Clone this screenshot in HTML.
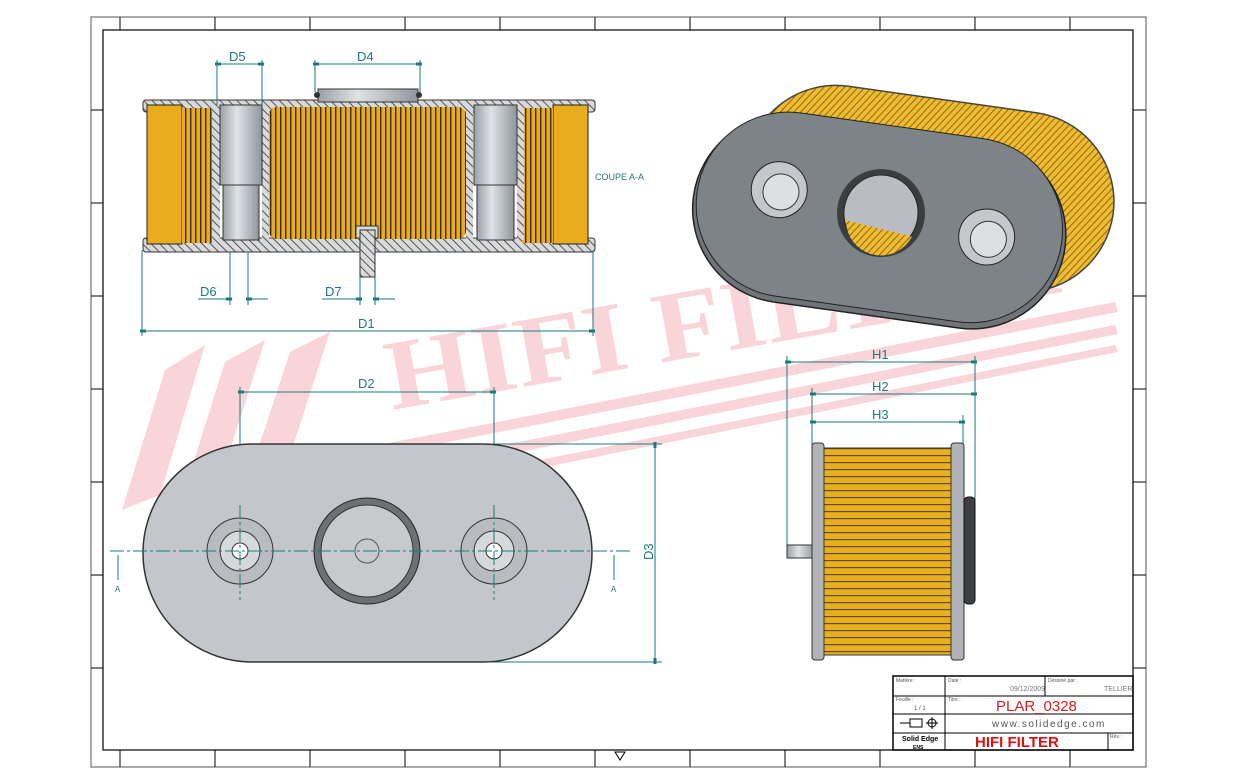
<!DOCTYPE html>
<html><head><meta charset="utf-8"><style>
html,body{margin:0;padding:0;background:#fff;}
svg{display:block;font-family:"Liberation Sans",sans-serif;}
</style></head><body>
<svg width="1237" height="784" viewBox="0 0 1237 784" xmlns="http://www.w3.org/2000/svg">
<defs>
<pattern id="pl" width="5" height="10" patternUnits="userSpaceOnUse"><rect width="5" height="10" fill="#e8ac1c"/><rect x="0" width="1.4" height="10" fill="#3a2a08"/></pattern>
<pattern id="plh" width="10" height="7" patternUnits="userSpaceOnUse"><rect width="10" height="7" fill="#e8b020"/><rect y="0" width="10" height="1.2" fill="#6b4a08"/></pattern>
<pattern id="pld" width="5" height="5" patternUnits="userSpaceOnUse" patternTransform="rotate(35)"><rect width="5" height="5" fill="#efbb30"/><rect width="1" height="5" fill="#8a6a18"/></pattern>
<pattern id="hat" width="6" height="6" patternUnits="userSpaceOnUse" patternTransform="rotate(-45)"><rect width="6" height="6" fill="#d8dadc"/><rect width="1" height="6" fill="#555"/></pattern>
<linearGradient id="tube" x1="0" x2="1"><stop offset="0" stop-color="#9aa0a6"/><stop offset=".4" stop-color="#dfe3e6"/><stop offset="1" stop-color="#8f959b"/></linearGradient>
<marker id="ar" markerWidth="8" markerHeight="6" refX="0" refY="3" orient="auto-start-reverse"><rect x="0" y="1.5" width="6" height="3" fill="#1d7a7a"/></marker>
</defs>
<rect width="1237" height="784" fill="#fff"/>
<rect x="91" y="17" width="1055" height="750" fill="none" stroke="#555" stroke-width="1"/>
<rect x="103" y="30" width="1030" height="720" fill="none" stroke="#000" stroke-width="1.2"/>
<g stroke="#000" stroke-width="1">
<line x1="120" y1="750" x2="120" y2="767"/><line x1="215" y1="750" x2="215" y2="767"/><line x1="310" y1="750" x2="310" y2="767"/><line x1="405" y1="750" x2="405" y2="767"/><line x1="500" y1="750" x2="500" y2="767"/><line x1="595" y1="750" x2="595" y2="767"/><line x1="690" y1="750" x2="690" y2="767"/><line x1="785" y1="750" x2="785" y2="767"/><line x1="880" y1="750" x2="880" y2="767"/><line x1="975" y1="750" x2="975" y2="767"/><line x1="1070" y1="750" x2="1070" y2="767"/>
<line x1="120" y1="17" x2="120" y2="30"/><line x1="215" y1="17" x2="215" y2="30"/><line x1="310" y1="17" x2="310" y2="30"/><line x1="405" y1="17" x2="405" y2="30"/><line x1="500" y1="17" x2="500" y2="30"/><line x1="595" y1="17" x2="595" y2="30"/><line x1="690" y1="17" x2="690" y2="30"/><line x1="785" y1="17" x2="785" y2="30"/><line x1="880" y1="17" x2="880" y2="30"/><line x1="975" y1="17" x2="975" y2="30"/><line x1="1070" y1="17" x2="1070" y2="30"/>
<line x1="91" y1="110" x2="103" y2="110"/><line x1="91" y1="203" x2="103" y2="203"/><line x1="91" y1="296" x2="103" y2="296"/><line x1="91" y1="389" x2="103" y2="389"/><line x1="91" y1="482" x2="103" y2="482"/><line x1="91" y1="575" x2="103" y2="575"/><line x1="91" y1="668" x2="103" y2="668"/>
<line x1="1133" y1="110" x2="1146" y2="110"/><line x1="1133" y1="203" x2="1146" y2="203"/><line x1="1133" y1="296" x2="1146" y2="296"/><line x1="1133" y1="389" x2="1146" y2="389"/><line x1="1133" y1="482" x2="1146" y2="482"/><line x1="1133" y1="575" x2="1146" y2="575"/><line x1="1133" y1="668" x2="1146" y2="668"/>
</g>
<!-- watermark -->
<g fill="#f9d0d5" opacity="0.9">
<polygon points="165,370 205,345 160,495 122,510"/>
<polygon points="225,362 265,340 218,488 180,505"/>
<polygon points="290,352 330,332 282,480 242,498"/>
<polygon points="250,470 1115,302 1118,312 252,480"/>
<polygon points="300,485 1115,325 1118,334 302,495"/>
<polygon points="350,498 1115,345 1118,352 352,506"/>
<text x="392" y="410" font-family="Liberation Serif,serif" font-weight="bold" font-size="100" transform="rotate(-10 392 410)" textLength="680" lengthAdjust="spacingAndGlyphs">HIFI FILTER</text>
</g>
<!-- SECTION VIEW -->
<g>
<rect x="143" y="100" width="452" height="12" fill="url(#hat)" stroke="#333" rx="3"/>
<rect x="143" y="238" width="452" height="14" fill="url(#hat)" stroke="#333" rx="3"/>
<rect x="147" y="105" width="35" height="139" fill="#e8ac1c" stroke="#222"/>
<rect x="553" y="105" width="35" height="139" fill="#e8ac1c" stroke="#222"/>
<rect x="182" y="108" width="30" height="135" fill="url(#pl)"/>
<rect x="522" y="108" width="31" height="135" fill="url(#pl)"/>
<rect x="212" y="103" width="8" height="137" fill="url(#hat)"/>
<rect x="262" y="103" width="7" height="137" fill="url(#hat)"/>
<rect x="466" y="103" width="7" height="137" fill="url(#hat)"/>
<rect x="517" y="103" width="7" height="137" fill="url(#hat)"/>
<rect x="220" y="105" width="42" height="80" fill="url(#tube)" stroke="#333"/>
<rect x="223" y="185" width="36" height="55" fill="url(#tube)" stroke="#333"/>
<rect x="474" y="105" width="43" height="80" fill="url(#tube)" stroke="#333"/>
<rect x="477" y="185" width="37" height="55" fill="url(#tube)" stroke="#333"/>
<rect x="269" y="107" width="197" height="132" rx="8" fill="url(#pl)"/>
<rect x="318" y="89" width="100" height="13" fill="url(#tube)" stroke="#333"/>
<circle cx="317" cy="95" r="3" fill="#333"/><circle cx="419" cy="95" r="3" fill="#333"/>
<rect x="356" y="226" width="22" height="12" fill="#d8dadc" stroke="#333"/>
<rect x="360" y="230" width="15" height="47" fill="url(#hat)" stroke="#333"/>
</g>
<g stroke="#1d7a7a" stroke-width="1" fill="none">
<line x1="217" y1="60" x2="217" y2="105"/><line x1="262" y1="60" x2="262" y2="105"/>
<line x1="221" y1="64" x2="258" y2="64" marker-start="url(#ar)" marker-end="url(#ar)"/>
<line x1="315" y1="60" x2="315" y2="92"/><line x1="420" y1="60" x2="420" y2="92"/>
<line x1="319" y1="64" x2="416" y2="64" marker-start="url(#ar)" marker-end="url(#ar)"/>
<line x1="230" y1="252" x2="230" y2="305"/><line x1="248" y1="252" x2="248" y2="305"/>
<line x1="198" y1="299" x2="226" y2="299" marker-end="url(#ar)"/><line x1="268" y1="299" x2="252" y2="299" marker-end="url(#ar)"/>
<line x1="360" y1="277" x2="360" y2="305"/><line x1="375" y1="277" x2="375" y2="305"/>
<line x1="322" y1="299" x2="356" y2="299" marker-end="url(#ar)"/><line x1="395" y1="299" x2="379" y2="299" marker-end="url(#ar)"/>
<line x1="142" y1="250" x2="142" y2="336"/><line x1="593" y1="250" x2="593" y2="336"/>
<line x1="146" y1="331" x2="589" y2="331" marker-start="url(#ar)" marker-end="url(#ar)"/>
</g>
<g fill="#1d7a7a" font-size="13">
<text x="229" y="61">D5</text><text x="357" y="61">D4</text><text x="200" y="296">D6</text><text x="325" y="296">D7</text><text x="358" y="328">D1</text>
<text x="595" y="180" font-size="9">COUPE A-A</text>
</g>
<!-- BOTTOM VIEW -->
<g stroke="#1d7a7a" stroke-width="1" fill="none">
<line x1="240" y1="387" x2="240" y2="551"/><line x1="494" y1="387" x2="494" y2="551"/>
<line x1="244" y1="392" x2="490" y2="392" marker-start="url(#ar)" marker-end="url(#ar)"/>
<line x1="493" y1="444" x2="662" y2="444"/><line x1="360" y1="662" x2="662" y2="662"/>
<line x1="655" y1="448" x2="655" y2="658" marker-start="url(#ar)" marker-end="url(#ar)"/>
</g>
<text x="358" y="388" fill="#1d7a7a" font-size="13">D2</text>
<text x="653" y="560" fill="#1d7a7a" font-size="13" transform="rotate(-90 653 560)">D3</text>
<rect x="143" y="444" width="449" height="218" rx="109" fill="#c3c7cb" stroke="#333" stroke-width="1.5"/>
<circle cx="240" cy="551" r="33" fill="#b8bcc0" stroke="#333"/><circle cx="240" cy="551" r="20" fill="#d6d9dc" stroke="#333"/><circle cx="240" cy="551" r="8" fill="#fff" stroke="#333"/>
<circle cx="494" cy="551" r="33" fill="#b8bcc0" stroke="#333"/><circle cx="494" cy="551" r="20" fill="#d6d9dc" stroke="#333"/><circle cx="494" cy="551" r="8" fill="#fff" stroke="#333"/>
<circle cx="367" cy="551" r="53" fill="#6d7176" stroke="#222"/><circle cx="367" cy="551" r="46" fill="#c7cacd" stroke="#333"/><circle cx="367" cy="551" r="12" fill="none" stroke="#555"/>
<g stroke="#1d7a7a" stroke-dasharray="14 3 3 3"><line x1="110" y1="551" x2="630" y2="551"/><line x1="240" y1="505" x2="240" y2="600"/><line x1="494" y1="505" x2="494" y2="600"/></g>
<g stroke="#1d7a7a"><line x1="118" y1="555" x2="118" y2="580"/><line x1="614" y1="555" x2="614" y2="580"/></g>
<text x="115" y="592" font-size="8" fill="#1d7a7a">A</text><text x="611" y="592" font-size="8" fill="#1d7a7a">A</text>
<!-- 3D VIEW -->
<g transform="rotate(8 880 220)">
<rect x="740" y="92" width="370" height="180" rx="90" fill="url(#pld)" stroke="#444" stroke-width="1.5"/>
<rect x="692" y="128" width="375" height="188" rx="94" fill="#6f7479" stroke="#222" stroke-width="1.5"/>
<rect x="695" y="125" width="368" height="185" rx="92" fill="#7e8387" stroke="#222"/>
<circle cx="776" cy="204" r="28" fill="#c4c8cc" stroke="#222"/><circle cx="778" cy="206" r="18" fill="#dde0e2" stroke="#333"/>
<circle cx="988" cy="222" r="28" fill="#c4c8cc" stroke="#222"/><circle cx="990" cy="224" r="18" fill="#dde0e2" stroke="#333"/>
<ellipse cx="880" cy="213" rx="44" ry="44" fill="#3b3e41"/><ellipse cx="880" cy="213" rx="37" ry="38" fill="#b9bdc1" stroke="#222"/>
<path d="M846 225 L914 232 A35 35 0 0 1 848 232 Z" fill="url(#pld)"/>
</g>
<!-- SIDE VIEW -->
<g stroke="#1d7a7a" stroke-width="1" fill="none">
<line x1="787" y1="356" x2="787" y2="545"/><line x1="975" y1="356" x2="975" y2="500"/>
<line x1="791" y1="362" x2="971" y2="362" marker-start="url(#ar)" marker-end="url(#ar)"/>
<line x1="812" y1="388" x2="812" y2="445"/><line x1="963" y1="415" x2="963" y2="445"/>
<line x1="816" y1="394" x2="971" y2="394" marker-start="url(#ar)" marker-end="url(#ar)"/>
<line x1="816" y1="422" x2="959" y2="422" marker-start="url(#ar)" marker-end="url(#ar)"/>
</g>
<g fill="#1d7a7a" font-size="13"><text x="872" y="359">H1</text><text x="872" y="391">H2</text><text x="872" y="419">H3</text></g>
<rect x="787" y="545" width="28" height="13" fill="url(#tube)" stroke="#333"/>
<rect x="812" y="443" width="12" height="217" rx="3" fill="#b0b4b8" stroke="#333"/>
<rect x="951" y="443" width="13" height="217" rx="3" fill="#b0b4b8" stroke="#333"/>
<rect x="824" y="448" width="127" height="207" fill="url(#plh)" stroke="#333"/>
<rect x="964" y="497" width="11" height="107" rx="4" fill="#3d4043" stroke="#111"/>
<!-- TITLE BLOCK -->
<g stroke="#000" stroke-width="1" fill="none">
<rect x="893" y="676" width="240" height="74" stroke-width="1.5"/>
<line x1="893" y1="696" x2="1133" y2="696"/><line x1="893" y1="714" x2="1133" y2="714"/><line x1="893" y1="733" x2="1133" y2="733"/>
<line x1="945" y1="676" x2="945" y2="750"/><line x1="1045" y1="676" x2="1045" y2="696"/><line x1="1108" y1="733" x2="1108" y2="750"/>
</g>
<g font-size="5" fill="#555"><text x="896" y="682">Matière :</text><text x="948" y="682">Date :</text><text x="1048" y="682">Dessiné par :</text><text x="896" y="701">Feuille :</text><text x="948" y="701">Titre :</text><text x="1110" y="738">Rév. :</text></g>
<text x="1010" y="691" font-size="7" fill="#777">09/12/2009</text>
<text x="1104" y="691" font-size="7" fill="#777">TELLIER</text>
<text x="914" y="710" font-size="6" fill="#555">1 / 1</text>
<text x="996" y="711" font-size="15" fill="#d42020">PLAR_0328</text>
<text x="992" y="727" font-size="10" fill="#555" letter-spacing="1.5">www.solidedge.com</text>
<text x="902" y="741" font-size="7" font-weight="bold">Solid Edge</text>
<text x="913" y="749" font-size="5" font-weight="bold">ENS</text>
<text x="975" y="747" font-size="15" font-weight="bold" fill="#e01010">HIFI FILTER</text>
<g stroke="#000" fill="none"><line x1="900" y1="723" x2="910" y2="723"/><rect x="910" y="719" width="12" height="8"/><circle cx="932" cy="723" r="4"/><line x1="926" y1="723" x2="938" y2="723"/><line x1="932" y1="717" x2="932" y2="729"/></g>
<path d="M615 752 L625 752 L620 760 Z" fill="none" stroke="#000"/>
</svg>
</body></html>
